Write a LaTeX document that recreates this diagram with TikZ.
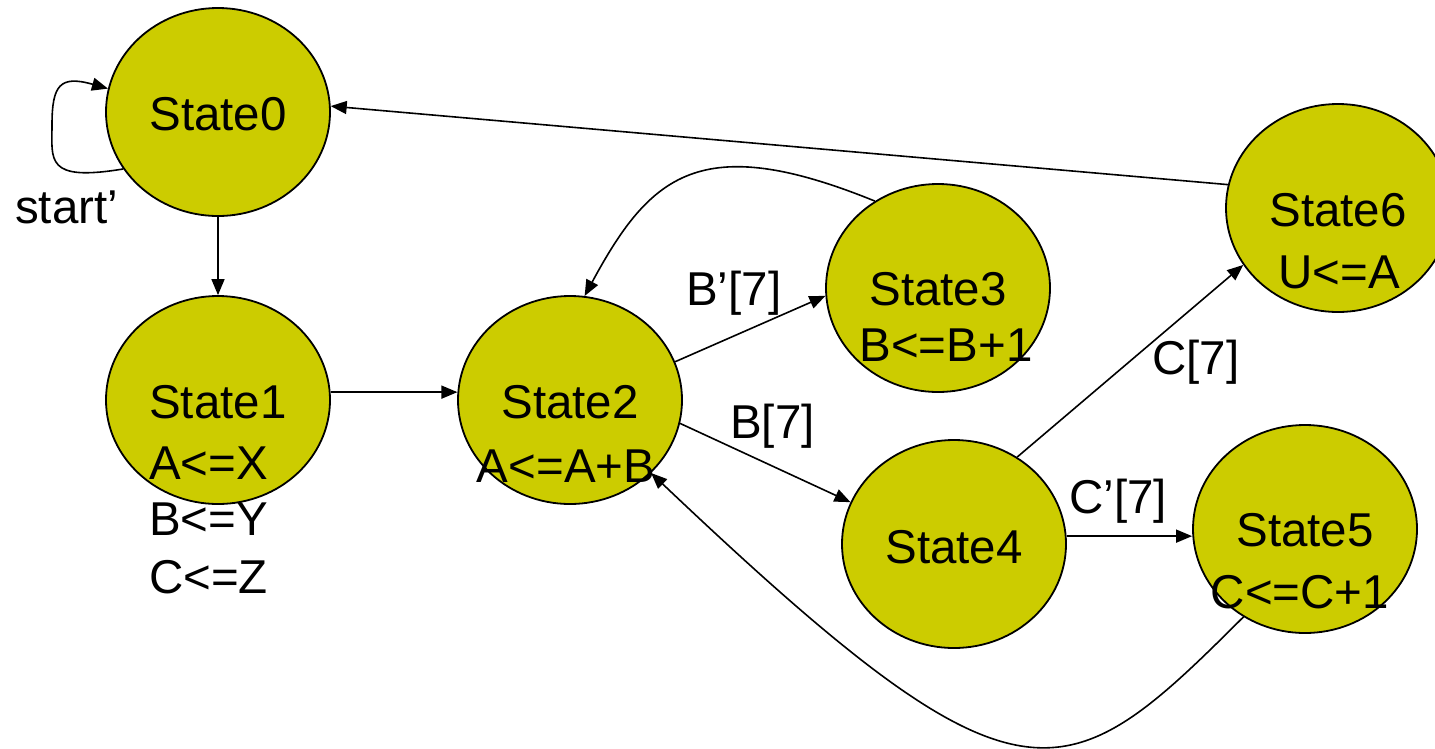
\documentclass[tikz,border=0pt]{standalone}
\usepackage{fontspec}
\setmainfont{Liberation Sans}
\usetikzlibrary{shapes.geometric,arrows.meta}
\definecolor{ylw}{RGB}{204,204,0}
\begin{document}
\begin{tikzpicture}[x=1pt,y=-1pt,
  state/.style={ellipse, draw=black, line width=1.8pt, fill=ylw, minimum width=224pt, minimum height=208pt, inner sep=0pt},
  txt/.style={font=\fontsize{47.5}{56}\selectfont, inner sep=0pt, anchor=base},
  ltxt/.style={txt, anchor=base west},
  conn/.style={line width=1.6pt, -{Triangle[length=16pt,width=13pt]}}]
\clip (0,0) rectangle (1435,748);
\fill[white] (0,0) rectangle (1435,748);
% states
\node[state] (s0) at (218,112) {};
\node[state] (s1) at (218,400) {};
\node[state] (s2) at (570,400) {};
\node[state] (s3) at (938,288) {};
\node[state] (s4) at (954,544) {};
\node[state] (s5) at (1305,529) {};
\node[state] (s6) at (1338,208) {};
% connectors
\draw[conn] (s0.211) .. controls (45,182) and (52,160) .. (52,125) .. controls (52,85) and (60,75) .. (s0.168);
\draw[conn] (s0.south) -- (s1.north);
\draw[conn] (s1.4) -- (s2.176);
\draw[conn] (s2.20) -- (s3.184);
\draw[conn] (s2.-12) -- (s4.158);
\draw[conn] (s4.54) -- (s6.-149);
\draw[conn] (s4.4) -- (s4.4 -| s5.west);
\draw[conn] (s6.168) -- (s0.3);
\draw[conn] (s3.126) .. controls (700,130) and (650,175) .. (s2.82);
\draw[conn] (s5.235) .. controls (1063,797) and (1022,825) .. (s2.-42);
% texts
\node[txt] (t0) at (218,130) {State0};
\node[ltxt] (tst) at (15,223) {start’};
\node[ltxt] (t1a) at (149,418) {State1};
\node[ltxt] (t1b) at (149,479) {A<=X};
\node[ltxt] (t1c) at (149,535) {B<=Y};
\node[ltxt] (t1d) at (149,593) {C<=Z};
\node[txt] (t2a) at (570,418) {State2};
\node[txt] (t2b) at (566,482) {A<=A+B};
\node[txt] (t3a) at (938,305) {State3};
\node[txt] (t3b) at (946,361) {B<=B+1};
\node[txt] (t4a) at (954,563) {State4};
\node[txt] (t5a) at (1305,546) {State5};
\node[txt] (t5b) at (1300,608) {C<=C+1};
\node[txt] (t6a) at (1338,226) {State6};
\node[txt] (t6b) at (1339,288) {U<=A};
\node[ltxt] (lb1) at (686,305) {B’[7]};
\node[ltxt] (lb2) at (730,438) {B[7]};
\node[ltxt] (lc1) at (1152,374) {C[7]};
\node[ltxt] (lc2) at (1069,513) {C’[7]};
\end{tikzpicture}
\end{document}
